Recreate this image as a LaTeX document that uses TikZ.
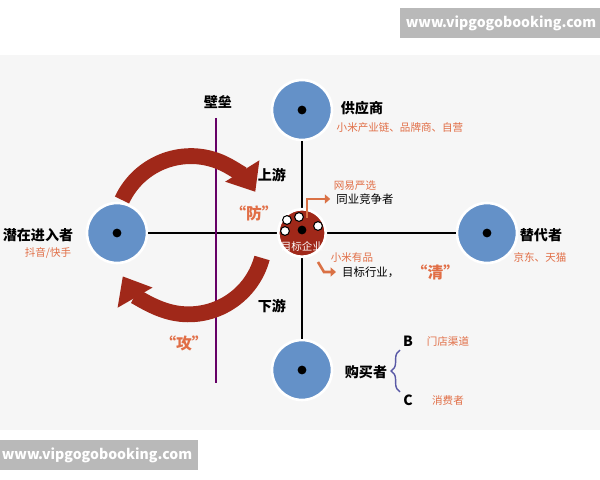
\documentclass[tikz,border=0pt]{standalone}
\usepackage{fontspec}
\setmainfont{Noto Sans CJK SC}
\usetikzlibrary{arrows.meta,decorations.pathreplacing}
\definecolor{bluefill}{RGB}{100,145,200}
\definecolor{darkred}{RGB}{160,40,25}
\definecolor{orangetxt}{RGB}{225,110,70}
\begin{document}
\begin{tikzpicture}[x=0.02cm,y=-0.02cm,
				party/.style={
				% The shape:
				circle,
				% The size:
				minimum size=1.2cm,
				% The border:
     				 draw=white, line width=1.5pt,
      				% The filling:
				fill=bluefill
    				},
				target/.style={
				circle, minimum size=0.95cm,
     				 draw=white, line width=1.5pt,
				fill=darkred
    				},
				dot/.style={circle, fill=black, inner sep=0pt, minimum size=5pt},
				wdot/.style={circle, fill=white, draw=black, line width=0.6pt, inner sep=0pt, minimum size=5pt},
				title/.style={font=\bfseries\fontsize{8}{9}\selectfont},
				sub/.style={text=orangetxt, font=\fontsize{6}{7}\selectfont},
				bigarrow/.style={darkred, line width=9pt, -{Triangle[width=22pt,length=14pt]}},
				smallarrow/.style={orangetxt!80!brown, line width=1.5pt, -{Triangle[width=5pt,length=3pt]}},
				quote/.style={font=\bfseries\fontsize{9}{10}\selectfont, text=orangetxt},
				]
    \useasboundingbox (0,0) rectangle (600,480);
    \fill[gray!7] (0,55) rectangle (600,430);
    % watermarks
    \node[fill=gray!55, text=white, font=\bfseries\fontsize{8}{9}\selectfont, minimum width=3.4cm, minimum height=0.6cm] (wm1) at (501,23) {www.vipgogobooking.com};
    \node[fill=gray!55, text=white, font=\bfseries\fontsize{8}{9}\selectfont, minimum width=3.4cm, minimum height=0.6cm] (wm2) at (97,455) {www.vipgogobooking.com};
    % circles
    \node[party] (sup) at (302,110) {};
    \node[party] (ent) at (117,233) {};
    \node[party] (sub) at (487,233) {};
    \node[party] (buy) at (302,370) {};
    \draw[line width=1pt] (ent) -- (sub);
    \draw[line width=1pt] (sup) -- (buy);
    \node[target] (tgt) at (302,233) {};
    \foreach \p in {sup,ent,sub,buy} \node[dot] at (\p) {};
    \node[dot] at (302,230) {};
    \node[wdot] at (287,220) {};
    \node[wdot] at (299,217) {};
    \node[wdot] at (285,231) {};
    \node[wdot] at (318,226) {};
    \node[text=white, font=\fontsize{6}{7}\selectfont] at (302,246) {目标企业};
    % barrier
    \draw[violet!80!black, line width=1pt] (216,118) -- (216,383);
    \node[title] (wall) at (218,102) {壁垒};
    % attack and defend
    \draw[bigarrow] (122,200) arc[start angle=-155, end angle=-32, radius=76];
    \draw[bigarrow] (262,258) arc[start angle=15, end angle=150, radius=76];
    \node[title] (up) at (272,175) {上游};
    \node[title] (down) at (272,306) {下游};
    \node[quote] (fang) at (254,213) {“防”};
    \node[quote] (gong) at (184,343) {“攻”};
    % labels
    \node[title] (supl) at (362,108) {供应商};
    \node[sub] (supn) at (400,128) {小米产业链、品牌商、自营};
    \node[title] (entl) at (38,235) {潜在进入者};
    \node[sub] (entn) at (48,253) {抖音/快手};
    \node[title] (subl) at (541,235) {替代者};
    \node[sub] (subn) at (540,257) {京东、天猫};
    \node[title] (buyl) at (366,372) {购买者};
    \node[sub] (peern) at (355,186) {网易严选};
    \node[title, font=\fontsize{6.5}{7}\selectfont] (peer) at (365,199) {同业竞争者};
    \node[sub] (indn) at (352,258) {小米有品};
    \node[title, font=\fontsize{6.5}{7}\selectfont, anchor=west] (ind) at (336,272) {目标行业，};
    \node[quote, anchor=west] (qing) at (ind.east) {“清”};
    \draw[smallarrow] (307,218) -- (307,199) -- (peer.west);
    \draw[smallarrow] (318,262) -- (324,272) -- (ind.west);
    % buyer branches
    \node[title] (bb) at (408,341) {B};
    \node[title] (bc) at (408,400) {C};
    \node[sub] (bbn) at (448,341) {门店渠道};
    \node[sub] (bcn) at (448,400) {消费者};
    \draw[gray!70!blue, line width=0.8pt, decorate, decoration={brace, amplitude=5pt, mirror}] (400,350) -- (400,392);
\end{tikzpicture}
\end{document}
